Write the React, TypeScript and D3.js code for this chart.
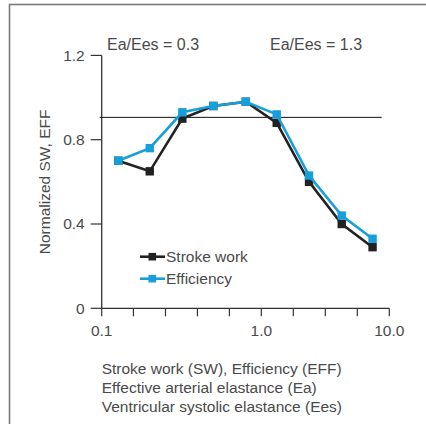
import React, { useEffect, useRef } from 'react';
import * as d3 from 'd3';

// Ea/Ees ratios (x) and normalized values
const ratios = [0.127, 0.2, 0.32, 0.5, 0.8, 1.32, 2.36, 4.25, 7.4];
const strokeWork = [0.7, 0.65, 0.9, 0.96, 0.98, 0.88, 0.6, 0.4, 0.29];
const efficiency = [0.7, 0.76, 0.93, 0.96, 0.98, 0.92, 0.63, 0.44, 0.33];

const xTicks = [0.1, 0.158, 0.251, 0.398, 0.631, 1, 1.778, 3.162, 5.623, 10];
const xLabels = [
  { v: 0.1, t: '0.1' },
  { v: 1, t: '1.0' },
  { v: 10, t: '10.0' },
];
const yTicks = [0, 0.4, 0.8, 1.2];
const refLevel = 0.906;

const notes = ['Stroke work (SW), Efficiency (EFF)', 'Effective arterial elastance (Ea)', 'Ventricular systolic elastance (Ees)'];

const BLUE = '#179fda';
const DARK = '#222';
const TEXT = '#4a4a4a';
const FONT = '"Liberation Sans", Arial, sans-serif';

const App = () => {
  const svgRef = useRef(null);

  useEffect(() => {
    const svg = d3.select(svgRef.current);
    svg.selectAll('*').remove();

    const x = d3.scaleLog().domain([0.1, 1, 10]).range([101.7, 261.3, 389.3]);
    const y = d3.scaleLinear().domain([0, 1.2]).range([308.3, 55.4]);

    // frame
    svg.append('rect')
      .attr('x', 9.5).attr('y', 4.5).attr('width', 440).attr('height', 440)
      .attr('fill', 'none').attr('stroke', '#7a7a7a').attr('stroke-width', 1.6);

    const g = svg.append('g')
      .style('font-family', FONT).style('font-size', '15.5px');

    // y axis
    g.append('line')
      .attr('x1', x(0.1)).attr('x2', x(0.1)).attr('y1', y(1.2)).attr('y2', y(0))
      .attr('stroke', '#333').attr('stroke-width', 1.3);
    yTicks.forEach((v) => {
      g.append('line')
        .attr('x1', x(0.1) - 11).attr('x2', x(0.1)).attr('y1', y(v)).attr('y2', y(v))
        .attr('stroke', '#333').attr('stroke-width', 1.2);
      g.append('text')
        .attr('x', x(0.1) - 17).attr('y', y(v)).attr('dy', '0.35em')
        .attr('text-anchor', 'end').attr('fill', TEXT)
        .text(v === 0 ? '0' : v.toFixed(1));
    });

    // x axis
    g.append('line')
      .attr('x1', x(0.1)).attr('x2', x(10)).attr('y1', y(0)).attr('y2', y(0))
      .attr('stroke', '#333').attr('stroke-width', 1.3);
    xTicks.forEach((v) => {
      g.append('line')
        .attr('x1', x(v)).attr('x2', x(v)).attr('y1', y(0)).attr('y2', y(0) + 8)
        .attr('stroke', '#333').attr('stroke-width', 1.2);
    });
    xLabels.forEach((d) => {
      g.append('text')
        .attr('x', x(d.v)).attr('y', y(0) + 22).attr('dy', '0.35em')
        .attr('text-anchor', 'middle').attr('fill', TEXT).text(d.t);
    });

    // axis title
    g.append('text')
      .attr('transform', `translate(45,${(y(0) + y(1.2)) / 2}) rotate(-90)`)
      .attr('dy', '0.35em').attr('text-anchor', 'middle').attr('fill', TEXT)
      .text('Normalized SW, EFF');

    // reference line
    g.append('line')
      .attr('x1', 99.7).attr('x2', 381.7).attr('y1', y(refLevel)).attr('y2', y(refLevel))
      .attr('stroke', '#111').attr('stroke-width', 1);

    // annotations
    g.append('text').attr('x', 107).attr('y', 50).attr('fill', TEXT)
      .style('font-size', '16px').text('Ea/Ees = 0.3');
    g.append('text').attr('x', 270).attr('y', 50).attr('fill', TEXT)
      .style('font-size', '16px').text('Ea/Ees = 1.3');

    const line = d3.line<number>()
      .x((d, i) => x(ratios[i]))
      .y((d) => y(d));

    const series = [
      { vals: strokeWork, color: DARK },
      { vals: efficiency, color: BLUE },
    ];
    series.forEach((s) => {
      g.append('path')
        .datum(s.vals)
        .attr('fill', 'none').attr('stroke', s.color).attr('stroke-width', 2.6)
        .attr('stroke-linejoin', 'miter')
        .attr('d', line);
      g.selectAll(null)
        .data(s.vals)
        .enter()
        .append('rect')
        .attr('x', (d, i) => x(ratios[i]) - 4.2)
        .attr('y', (d) => y(d) - 4.2)
        .attr('width', 8.4).attr('height', 8.4)
        .attr('fill', s.color);
    });

    // legend
    const legend = [
      { label: 'Stroke work', color: DARK },
      { label: 'Efficiency', color: BLUE },
    ];
    legend.forEach((d, i) => {
      const ly = 256.7 + i * 22;
      g.append('line')
        .attr('x1', 140).attr('x2', 165).attr('y1', ly).attr('y2', ly)
        .attr('stroke', d.color).attr('stroke-width', 2.6);
      g.append('rect')
        .attr('x', 148.5).attr('y', ly - 3.8).attr('width', 7.6).attr('height', 7.6)
        .attr('fill', d.color);
      g.append('text')
        .attr('x', 166).attr('y', ly).attr('dy', '0.35em').attr('fill', TEXT)
        .text(d.label);
    });

    // notes under the axis
    notes.forEach((t, i) => {
      g.append('text')
        .attr('x', 101.7).attr('y', 368.3 + i * 18.9).attr('dy', '0.35em')
        .attr('fill', TEXT).text(t);
    });
  }, []);

  return (
    <svg
      ref={svgRef}
      width={426}
      height={424}
      style={{ position: 'absolute', left: 0, top: 0, background: '#fff' }}
    ></svg>
  );
};

export default App;
